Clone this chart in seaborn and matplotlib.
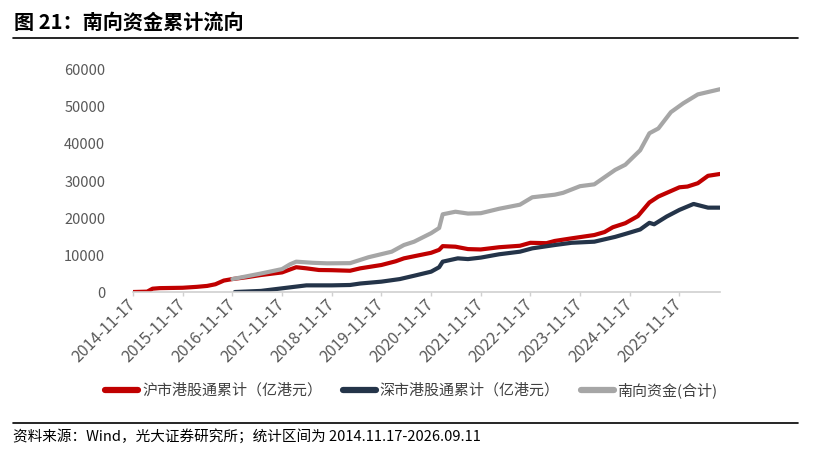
import pandas as pd
import matplotlib
matplotlib.use("Agg")
import matplotlib.pyplot as plt
import matplotlib.dates as mdates
from matplotlib.lines import Line2D
import seaborn as sns

# 沪市港股通累计（亿港元）
sh_dates = ["2014-11-17", "2015-03-01", "2015-04-10", "2015-06-01", "2015-11-17", "2016-03-01",
            "2016-05-15", "2016-07-15", "2016-09-15", "2016-11-17", "2017-03-01", "2017-06-15",
            "2017-11-17", "2018-01-15", "2018-03-01", "2018-05-15", "2018-08-15", "2018-11-17",
            "2019-04-01", "2019-06-15", "2019-11-17", "2020-03-01", "2020-05-01", "2020-08-15",
            "2020-11-17", "2021-01-15", "2021-02-10", "2021-05-15", "2021-08-15", "2021-11-17",
            "2022-04-01", "2022-09-01", "2022-11-17", "2023-03-15", "2023-05-15", "2023-09-15",
            "2024-03-01", "2024-05-15", "2024-07-15", "2024-10-15", "2025-01-15", "2025-04-10",
            "2025-06-15", "2025-11-17", "2026-01-15", "2026-04-01", "2026-06-15", "2026-09-11"]
sh_vals = [0, 100, 900, 1050, 1150, 1400,
           1650, 2100, 3100, 3500, 4000, 4600,
           5300, 6100, 6700, 6400, 5950, 5900,
           5750, 6400, 7300, 8300, 9100, 9900,
           10600, 11400, 12400, 12250, 11600, 11500,
           12100, 12500, 13300, 13200, 13800, 14500,
           15400, 16200, 17500, 18600, 20500, 24200,
           25800, 28300, 28500, 29400, 31400, 31900]

# 深市港股通累计（亿港元）
sz_dates = ["2016-12-05", "2017-06-15", "2017-11-17", "2018-05-15", "2018-11-17", "2019-04-01",
            "2019-06-15", "2019-11-17", "2020-04-01", "2020-07-15", "2020-11-17", "2021-01-15",
            "2021-02-10", "2021-06-01", "2021-08-15", "2021-11-17", "2022-04-01", "2022-09-01",
            "2022-12-01", "2023-05-15", "2023-09-15", "2024-03-01", "2024-08-01", "2024-10-15",
            "2025-02-01", "2025-04-10", "2025-05-15", "2025-08-15", "2025-11-17", "2026-03-01",
            "2026-06-15", "2026-09-11"]
sz_vals = [0, 300, 1000, 1800, 1800, 1900,
           2300, 2800, 3500, 4400, 5500, 6700,
           8200, 9100, 8900, 9300, 10200, 10900,
           11800, 12700, 13300, 13600, 14900, 15700,
           16900, 18700, 18300, 20400, 22200, 23800,
           22800, 22800]

# 南向资金(合计)
total_dates = ["2016-11-17", "2017-06-15", "2017-11-17", "2018-01-15", "2018-03-01", "2018-07-01",
               "2018-10-15", "2019-04-01", "2019-08-15", "2020-02-01", "2020-05-01", "2020-07-15",
               "2020-11-17", "2021-01-15", "2021-02-10", "2021-05-15", "2021-08-15", "2021-11-17",
               "2022-04-01", "2022-09-01", "2022-12-01", "2023-05-15", "2023-07-15", "2023-11-17",
               "2024-03-01", "2024-08-01", "2024-10-15", "2025-02-01", "2025-04-10", "2025-06-15",
               "2025-09-15", "2025-12-15", "2026-04-01", "2026-09-11"]
total_vals = [3500, 5000, 6200, 7500, 8200, 7900,
              7750, 7800, 9400, 10900, 12700, 13600,
              15900, 17300, 21000, 21700, 21200, 21300,
              22500, 23600, 25600, 26300, 26800, 28600,
              29100, 33000, 34400, 38300, 42900, 44200,
              48600, 51000, 53400, 54800]

series_names = ["沪市港股通累计（亿港元）", "深市港股通累计（亿港元）", "南向资金(合计)"]
colors = ["#C00000", "#243449", "#A6A6A6"]
tick_dates = ["2014-11-17", "2015-11-17", "2016-11-17", "2017-11-17", "2018-11-17", "2019-11-17",
              "2020-11-17", "2021-11-17", "2022-11-17", "2023-11-17", "2024-11-17", "2025-11-17"]

sns.set_theme(style="white")
plt.rcParams["font.family"] = ["Noto Sans CJK SC", "DejaVu Sans"]

frames = []
for name, d, v in zip(series_names, [sh_dates, sz_dates, total_dates], [sh_vals, sz_vals, total_vals]):
    frames.append(pd.DataFrame({"date": pd.to_datetime(d), "value": v, "series": name}))
df = pd.concat(frames, ignore_index=True)

fig = plt.figure(figsize=(8.14, 4.58), dpi=100)
ax = fig.add_axes([0.1634, 0.3624, 0.7211, 0.4848])

sns.lineplot(data=df, x="date", y="value", hue="series", hue_order=series_names,
             palette=colors, linewidth=3.0, estimator=None, ax=ax, legend=False)

ax.set_xlim(pd.Timestamp("2014-11-17"), pd.Timestamp("2026-09-11"))
ax.set_ylim(0, 60000)
ax.set_yticks([0, 10000, 20000, 30000, 40000, 50000, 60000])
ax.set_xticks(pd.to_datetime(tick_dates))
ax.xaxis.set_major_formatter(mdates.DateFormatter("%Y-%m-%d"))
ax.set_xlabel("")
ax.set_ylabel("")

for s in ["top", "right", "left"]:
    ax.spines[s].set_visible(False)
ax.spines["bottom"].set_color("#D0D0D0")
ax.spines["bottom"].set_linewidth(1.2)
ax.tick_params(axis="x", bottom=True, length=3, width=1, color="#D0D0D0", pad=4,
               labelsize=11.5, labelcolor="#595959")
ax.tick_params(axis="y", left=False, pad=14, labelsize=10.5, labelcolor="#595959")
for lab in ax.get_xticklabels():
    lab.set_rotation(45)
    lab.set_ha("right")
    lab.set_va("center")
    lab.set_rotation_mode("anchor")

handles = [Line2D([0], [0], color=c, lw=4.5, solid_capstyle="round") for c in colors]
fig.legend(handles, series_names, loc="center", bbox_to_anchor=(0.5055, 0.1485), ncol=3,
           frameon=False, fontsize=10.8, handlelength=2.2, handletextpad=0.25,
           columnspacing=1.4, labelcolor="#404040")

# 标题与分隔线
fig.text(0.017, 0.952, "图 21：南向资金累计流向", fontsize=14.5, fontweight="bold",
         color="black", va="center", ha="left")
fig.add_artist(Line2D([0.016, 0.98], [0.917, 0.917], color="black", lw=1.2))
fig.add_artist(Line2D([0.016, 0.98], [0.076, 0.076], color="black", lw=1.2))
fig.text(0.016, 0.048, "资料来源：Wind，光大证券研究所；统计区间为 2014.11.17-2026.09.11",
         fontsize=10.5, color="black", va="center", ha="left")

fig.savefig("out.png", dpi=100)
